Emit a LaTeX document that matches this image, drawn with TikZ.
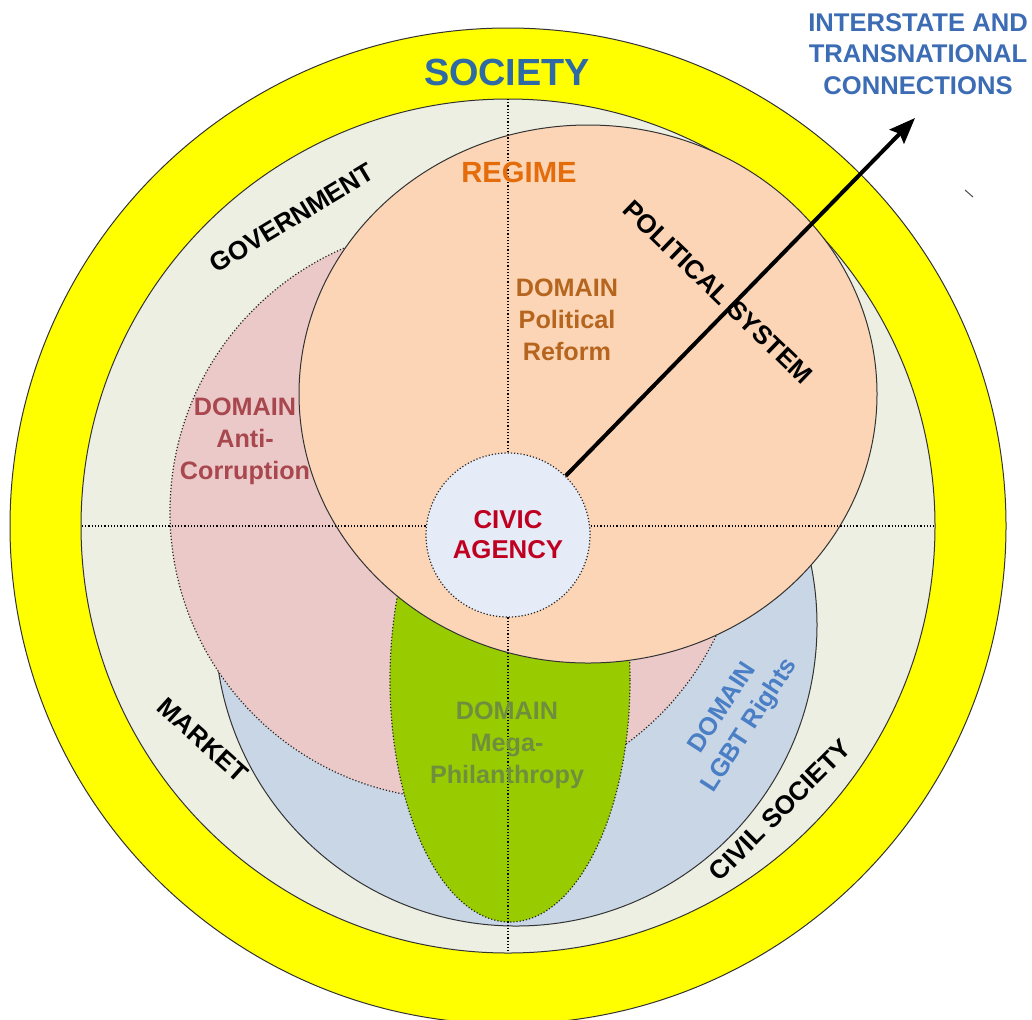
\documentclass[tikz,border=0pt]{standalone}
\usepackage{fontspec}
\setmainfont{Liberation Sans}
\usepackage{xcolor}
\usetikzlibrary{positioning}
\usetikzlibrary{arrows.meta}
\definecolor{ringyellow}{HTML}{FFFF00}
\definecolor{spherebg}{HTML}{ECEFE1}
\definecolor{regimefill}{HTML}{FBD5B6}
\definecolor{corruptfill}{HTML}{EBC9C9}
\definecolor{lgbtfill}{HTML}{C8D6E6}
\definecolor{philfill}{HTML}{99CC00}
\definecolor{civicfill}{HTML}{E5EBF7}
\definecolor{societyblue}{HTML}{2E6AA4}
\definecolor{linkblue}{HTML}{3C6CB4}
\definecolor{regimeorange}{HTML}{E46C0A}
\definecolor{reformbrown}{HTML}{B5651D}
\definecolor{corruptred}{HTML}{A8474E}
\definecolor{civicred}{HTML}{C00020}
\definecolor{philtext}{HTML}{6F8F3F}
\definecolor{lgbtblue}{HTML}{4A7EC5}
\newcommand{\spherelabel}[5]{ % Takes node name, x coord, y coord, rotation angle, label text as arguments
    \node [sphere] (#1) at (#2, #3) [rotate=#4] {#5};
}

\begin{document}
\begin{tikzpicture}[x=0.5pt, y=-0.5pt,
    sphere/.style={font=\bfseries\fontsize{13}{16}\selectfont, inner sep=0pt},
    domaintext/.style={font=\bfseries\fontsize{12.6}{16}\selectfont, align=center, inner sep=0pt},
    rim/.style={draw=black!80, line width=0.5pt},
    dotrim/.style={draw=black!85, line width=0.6pt, densely dotted}]
    \useasboundingbox (0,0) rectangle (1032,1019);

    % Society ring
    \draw[rim, fill=ringyellow] (508,526) circle [radius=498];
    \draw[rim, fill=spherebg] (508,526) circle [radius=427];

    % Domains
    \draw[rim, fill=lgbtfill] (516,625) circle [radius=301];
    \draw[dotrim, fill=corruptfill] (457,512) circle [radius=287];
    \draw[dotrim, fill=philfill] (510,680) ellipse [x radius=120, y radius=242];
    \draw[rim, fill=regimefill] (588,394) ellipse [x radius=289, y radius=269];

    % Axes
    \draw[densely dotted, line width=0.6pt] (508,99) -- (508,953);
    \draw[densely dotted, line width=0.6pt] (82,526) -- (935,526);

    % Civic agency
    \node[dotrim, fill=civicfill, circle, minimum size=82pt, inner sep=0pt,
          font=\bfseries\fontsize{12.9}{15}\selectfont, align=center, text=civicred]
          (civic) at (508,535) {CIVIC\\AGENCY};

    % Outward connections
    \coordinate (outward) at (915,118);
    \draw[line width=2pt, -{Stealth[length=13pt, width=10pt, inset=2pt]}] (civic) -- (outward);
    \draw[black!70, line width=0.5pt] (965,190) -- (973,197);

    % Titles
    \node[font=\bfseries\fontsize{18.9}{20}\selectfont, text=societyblue] (society) at (507,72) {SOCIETY};
    \node[font=\bfseries\fontsize{12.8}{15.6}\selectfont, text=linkblue, align=center] (links) at (918,54)
        {INTERSTATE AND\\TRANSNATIONAL\\CONNECTIONS};
    \node[font=\bfseries\fontsize{14.6}{16}\selectfont, text=regimeorange] (regime) at (519,172) {REGIME};

    % Spheres
    \spherelabel{gov}{292}{218}{31}{GOVERNMENT}
    \spherelabel{polsys}{718}{292}{-44}{POLITICAL SYSTEM}
    \spherelabel{market}{203}{740}{-42}{MARKET}
    \spherelabel{civsoc}{780}{810}{45}{CIVIL SOCIETY}

    % Domain labels
    \node[domaintext, text=reformbrown] (reform) at (567,320) {DOMAIN\\Political\\Reform};
    \node[domaintext, text=corruptred] (corrupt) at (245,441) {DOMAIN\\Anti-\\Corruption};
    \node[domaintext, text=philtext] (phil) at (507,745) {DOMAIN\\Mega-\\Philanthropy};
    \node[domaintext, text=lgbtblue, rotate=57] (lgbt) at (737,717) {DOMAIN\\LGBT Rights};
\end{tikzpicture}
\end{document}
